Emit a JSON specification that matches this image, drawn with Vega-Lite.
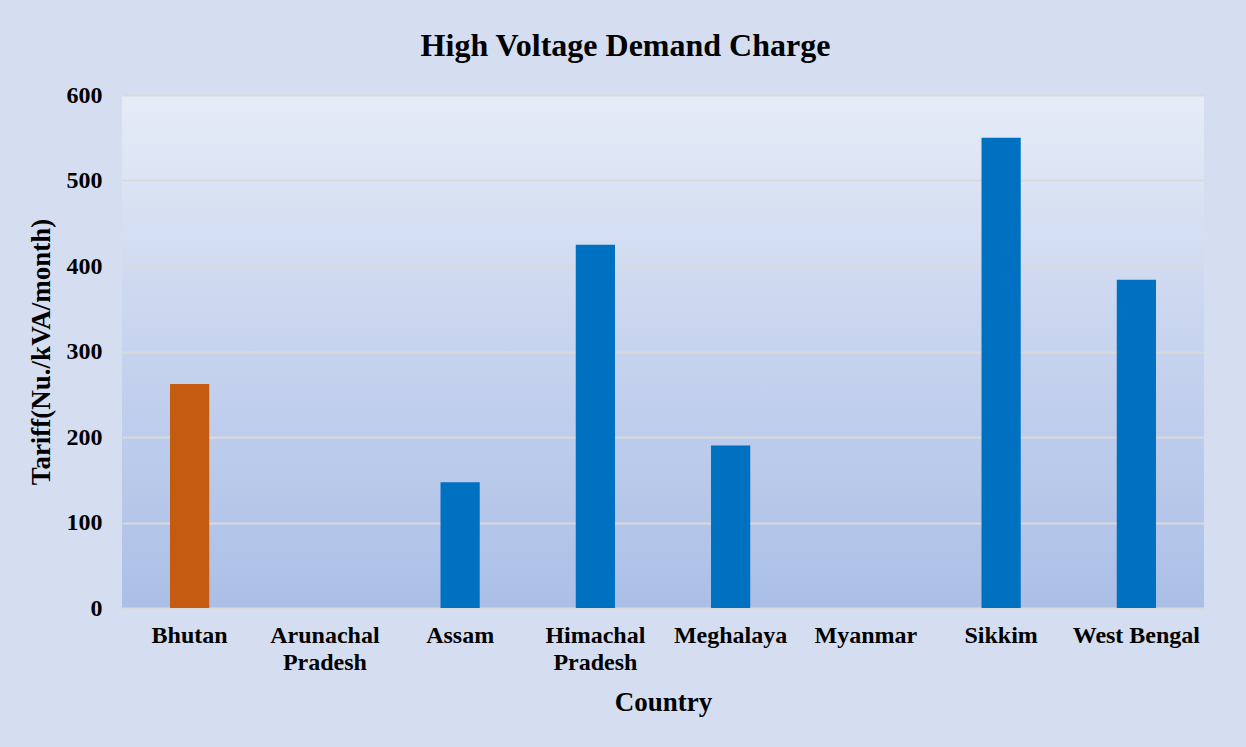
{
  "$schema": "https://vega.github.io/schema/vega-lite/v6.json",
  "autosize": {"type": "none"},
  "width": 1082,
  "height": 513,
  "padding": {"left": 122, "top": 95, "right": 42, "bottom": 139},
  "background": "#d5def1",
  "title": {
    "text": "High Voltage Demand Charge",
    "font": "Liberation Serif",
    "fontSize": 32,
    "fontWeight": "bold",
    "color": "#000000",
    "anchor": "middle",
    "frame": "bounds",
    "offset": 20,
    "dx": 10
  },
  "data": {
    "values": [
      {"country": "Bhutan", "tariff": 262, "group": "Bhutan"},
      {"country": "Arunachal Pradesh", "tariff": null, "group": "Other"},
      {"country": "Assam", "tariff": 147, "group": "Other"},
      {"country": "Himachal Pradesh", "tariff": 425, "group": "Other"},
      {"country": "Meghalaya", "tariff": 190, "group": "Other"},
      {"country": "Myanmar", "tariff": null, "group": "Other"},
      {"country": "Sikkim", "tariff": 550, "group": "Other"},
      {"country": "West Bengal", "tariff": 384, "group": "Other"}
    ]
  },
  "mark": {"type": "bar"},
  "encoding": {
    "x": {
      "field": "country",
      "type": "nominal",
      "sort": null,
      "scale": {
        "domain": ["Bhutan", "Arunachal Pradesh", "Assam", "Himachal Pradesh", "Meghalaya", "Myanmar", "Sikkim", "West Bengal"],
        "paddingInner": 0.71,
        "paddingOuter": 0.355
      },
      "axis": {
        "title": "Country",
        "labelAngle": 0,
        "labelExpr": "datum.label == 'West Bengal' ? datum.label : split(datum.label, ' ')",
        "labelFont": "Liberation Serif",
        "labelFontSize": 24,
        "labelFontWeight": "bold",
        "labelColor": "#000000",
        "labelPadding": 15,
        "labelLineHeight": 27,
        "titleFont": "Liberation Serif",
        "titleFontSize": 27,
        "titleFontWeight": "bold",
        "titleColor": "#000000",
        "titlePadding": 15,
        "ticks": false,
        "domain": false
      }
    },
    "y": {
      "field": "tariff",
      "type": "quantitative",
      "scale": {"domain": [0, 600]},
      "axis": {
        "title": "Tariff(Nu./kVA/month)",
        "values": [0, 100, 200, 300, 400, 500, 600],
        "labelFont": "Liberation Serif",
        "labelFontSize": 24,
        "labelFontWeight": "bold",
        "labelColor": "#000000",
        "labelPadding": 20,
        "titleFont": "Liberation Serif",
        "titleFontSize": 27,
        "titleFontWeight": "bold",
        "titleColor": "#000000",
        "titlePadding": 11,
        "ticks": false,
        "domain": false,
        "grid": true,
        "gridColor": "#d9d9d9",
        "gridWidth": 2
      }
    },
    "color": {
      "field": "group",
      "type": "nominal",
      "scale": {"domain": ["Bhutan", "Other"], "range": ["#c55a11", "#0070c0"]},
      "legend": null
    }
  },
  "config": {
    "view": {
      "stroke": null,
      "fill": {
        "gradient": "linear",
        "x1": 0, "y1": 0, "x2": 0, "y2": 1,
        "stops": [
          {"offset": 0, "color": "#e6ecf7"},
          {"offset": 0.5, "color": "#c6d3ee"},
          {"offset": 1, "color": "#abbfe6"}
        ]
      }
    }
  }
}
